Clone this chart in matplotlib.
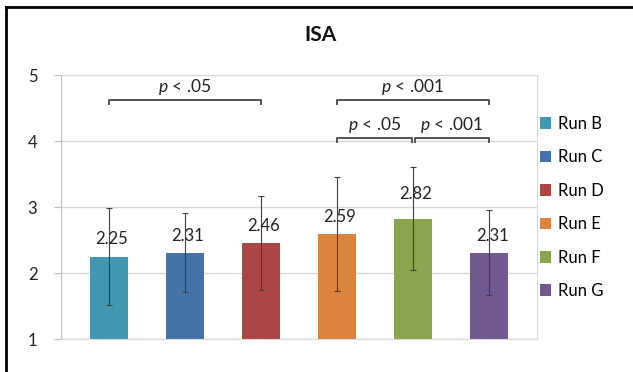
import matplotlib
matplotlib.use("Agg")
import matplotlib.pyplot as plt
from matplotlib.lines import Line2D
import numpy as np

plt.rcParams['font.family'] = ['Lato', 'DejaVu Sans']
plt.rcParams['mathtext.fontset'] = 'custom'
plt.rcParams['mathtext.it'] = 'Lato:italic'
plt.rcParams['mathtext.rm'] = 'Lato'

# data
runs = ['Run B', 'Run C', 'Run D', 'Run E', 'Run F', 'Run G']
means = [2.25, 2.31, 2.46, 2.59, 2.82, 2.31]
errs = [0.74, 0.60, 0.71, 0.86, 0.78, 0.65]
colors = ['#4298B0', '#4572A7', '#AA4643', '#DB843D', '#89A54E', '#71588F']

# significance brackets: (first bar, last bar, height, label)
brackets = [
    (0, 2, 4.62, '$p$ < .05'),
    (3, 5, 4.62, '$p$ < .001'),
    (3, 4, 4.04, '$p$ < .05'),
    (4, 5, 4.04, '$p$ < .001'),
]
label_lift = [9, 9, 9, 9, 17, 9]  # px gap between bar top and value label

fig = plt.figure(figsize=(6.33, 3.72), dpi=100)
ax = fig.add_axes([61/633, 1 - 339/372, 476/633, 264/372])

x = np.arange(len(runs))
bars = ax.bar(x, [m - 1 for m in means], bottom=1, width=0.5, color=colors,
              label=runs, zorder=2)
ax.errorbar(x, means, yerr=errs, fmt='none', ecolor='#404040', elinewidth=0.8,
            capsize=2.5, capthick=0.8, zorder=3)

for xi, m, lift in zip(x, means, label_lift):
    ax.annotate(f'{m:.2f}', (xi, m), xytext=(3, lift), textcoords='offset pixels',
                ha='center', va='bottom', fontsize=12, color='#222222')

for i0, i1, h, txt in brackets:
    a = i0 + 0.02 if i0 == 4 else i0
    b = i1 - 0.02 if i1 == 4 else i1
    ax.plot([a, a, b, b], [h - 0.06, h, h, h - 0.06], color='#555555', lw=1.4,
            clip_on=False, zorder=4)
    ax.text((a + b) / 2, h + 0.05, txt, ha='center', va='bottom', fontsize=12.5,
            color='#222222')

ax.set_xlim(-0.63, 5.63)
ax.set_ylim(1, 5)
ax.set_yticks([1, 2, 3, 4, 5])
ax.set_xticks([])
ax.grid(axis='y', color='#D9D9D9', lw=1, zorder=0)
for s in ax.spines.values():
    s.set_color('#D9D9D9')
ax.spines['left'].set_color('#BFBFBF')
ax.tick_params(axis='y', length=5, color='#BFBFBF', labelsize=12, pad=12,
               labelcolor='#222222')

fig.text(320/633, 1 - 35/372, 'ISA', ha='center', va='center', fontsize=15,
         fontweight='bold', color='#111111')

fig.legend(handles=bars, labels=runs, loc='upper left',
           bbox_to_anchor=(533/633, 1 - 109/372), frameon=False, fontsize=12,
           handlelength=0.7, handleheight=0.7, handletextpad=0.4,
           labelspacing=1.05, borderaxespad=0)

# screenshot frame (top and left edge)
fig.add_artist(Line2D([6/633, 1], [1 - 7/372, 1 - 7/372], color='black', lw=2,
                      transform=fig.transFigure))
fig.add_artist(Line2D([6/633, 6/633], [0, 1 - 7/372], color='black', lw=2,
                      transform=fig.transFigure))

fig.savefig('out.png', dpi=100)
